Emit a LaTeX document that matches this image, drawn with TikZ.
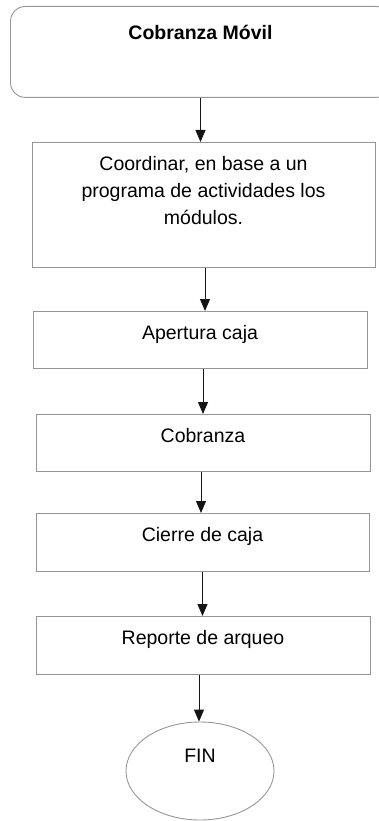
\documentclass[tikz,border=0pt]{standalone}
\usepackage{fontspec}
\setmainfont{Liberation Sans}
\usepackage{xcolor}
\usepackage{tikz}
\usetikzlibrary{arrows.meta,shapes.geometric,calc}
\definecolor{GrisBorde}{RGB}{150,150,150}
\definecolor{NegroFlecha}{RGB}{20,20,20}

\begin{document}
\begin{tikzpicture}[x=1pt,y=-1pt,>={Triangle[width=10pt,length=12pt]},
  paso/.style={draw=GrisBorde,line width=0.9pt,rectangle,anchor=north,inner xsep=0pt,inner ysep=0pt,
    align=center,font=\fontsize{19.5}{27}\selectfont,text height=28pt},
  flecha/.style={->,NegroFlecha,line width=0.9pt}]
  \useasboundingbox (0,0) rectangle (378,821);
  \node[paso,rounded corners=15pt,minimum width=380pt,text depth=58pt,font=\bfseries\fontsize{19.5}{27}\selectfont,text height=33pt] (inicio) at (200.5,6) {Cobranza Móvil};
  \node[paso,minimum width=343pt,text height=82pt,text depth=43pt] (coordinar) at (203.5,142) {Coordinar, en base a un\\programa de actividades los\\módulos.};
  \node[paso,minimum width=334pt,text depth=29pt] (apertura) at (200,311) {Apertura caja};
  \node[paso,minimum width=334pt,text depth=29pt] (cobranza) at (203,414) {Cobranza};
  \node[paso,minimum width=333pt,text depth=30pt] (cierre) at (202.5,513) {Cierre de caja};
  \node[paso,minimum width=334pt,text depth=30pt] (reporte) at (203,616) {Reporte de arqueo};
  \node[draw=GrisBorde,line width=0.9pt,ellipse,minimum width=148pt,minimum height=98pt,font=\fontsize{19.5}{27}\selectfont,text height=14pt,text depth=32pt,inner sep=0pt] (fin) at (200,771) {FIN};
  % conectores
  \draw[flecha] (inicio.south) -- (inicio.south |- coordinar.north);
  \draw[flecha] ([xshift=1.5pt]coordinar.south) -- ([xshift=1.5pt]coordinar.south |- apertura.north);
  \draw[flecha] ($(apertura.south)+(3,0)$) -- ($(apertura.south |- cobranza.north)+(3,0)$);
  \draw[flecha] ($(cobranza.south)+(-2,0)$) -- ($(cobranza.south |- cierre.north)+(-2,0)$);
  \draw[flecha] (cierre.south) -- (cierre.south |- reporte.north);
  \draw[flecha] ($(reporte.south)+(-4,0)$) -- ($(reporte.south |- fin.north)+(-4,0)$);
\end{tikzpicture}
\end{document}
